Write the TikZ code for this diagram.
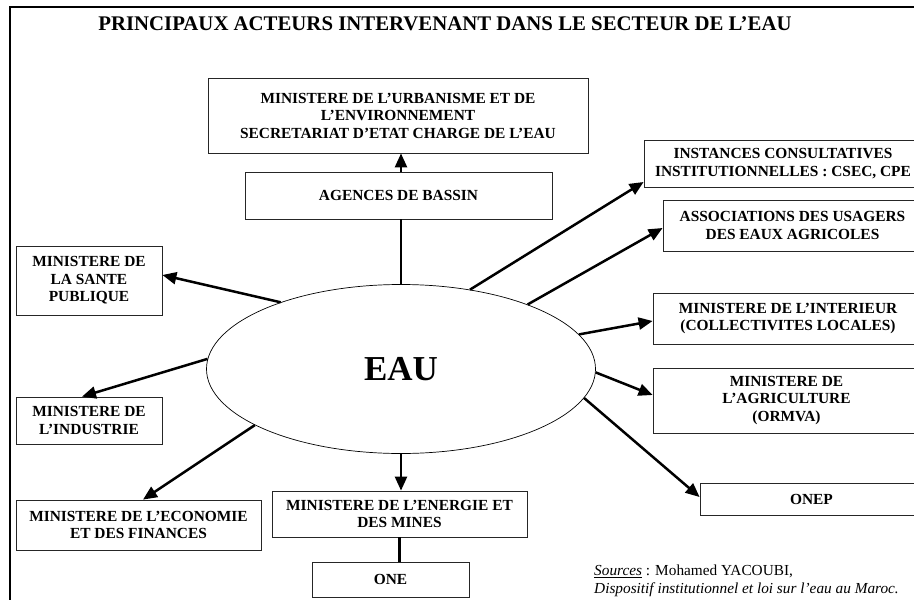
\documentclass[tikz,border=0pt]{standalone}
\usepackage{fontspec}
\setmainfont{Liberation Serif}
\usetikzlibrary{shapes.geometric,arrows.meta,shadows}
\begin{document}
\begin{tikzpicture}[x=1pt,y=-1pt,
  box/.style={draw=black!85, line width=0.8pt, fill=white, align=center, inner sep=0pt,
     font=\bfseries\fontsize{15.4}{17.5}\selectfont,
     drop shadow={shadow xshift=1.3pt, shadow yshift=-1.3pt, fill=black!55, opacity=1}},
  conn/.style={line width=2.5pt, -{Triangle[length=14pt,width=12pt]}},
  plainline/.style={line width=2.5pt}
]
\useasboundingbox (0,0) rectangle (914,600);
\clip (0,0) rectangle (914,600);
\fill[white] (0,0) rectangle (914,600);
\draw[line width=2pt] (10,600) -- (10,6.5) -- (914,6.5);

\node (title) at (445,24) {\bfseries\fontsize{20.8}{24}\selectfont PRINCIPAUX ACTEURS INTERVENANT DANS LE SECTEUR DE L’EAU};

\node[box, minimum width=380pt, minimum height=75pt] (urb) at (398,115.5)
  {MINISTERE DE L’URBANISME ET DE\\ L’ENVIRONNEMENT\\ SECRETARIAT D’ETAT CHARGE DE L’EAU};
\node[box, minimum width=307pt, minimum height=47pt] (agences) at (398.5,195.5) {AGENCES DE BASSIN};
\node[box, minimum width=278pt, minimum height=47pt] (inst) at (783,163.5)
  {INSTANCES CONSULTATIVES\\ INSTITUTIONNELLES : CSEC, CPE};
\node[box, minimum width=259pt, minimum height=51pt] (assoc) at (792.5,225.5)
  {ASSOCIATIONS DES USAGERS\\ DES EAUX AGRICOLES};
\node[box, minimum width=146pt, minimum height=69pt] (sante) at (89,280.5)
  {MINISTERE DE\\ LA SANTE\\ PUBLIQUE};
\node[box, minimum width=270pt, minimum height=51pt] (inter) at (788,318.5)
  {MINISTERE DE L’INTERIEUR\\ (COLLECTIVITES LOCALES)};
\node[box, minimum width=267pt, minimum height=65pt] (agri) at (786.5,400.5)
  {MINISTERE DE\\ L’AGRICULTURE\\ (ORMVA)};
\node[box, minimum width=146pt, minimum height=47pt] (indus) at (89,420.5)
  {MINISTERE DE\\ L’INDUSTRIE};
\node[box, minimum width=223pt, minimum height=32pt] (onep) at (811.5,499) {ONEP};
\node[box, minimum width=245pt, minimum height=50pt] (econ) at (138.5,525)
  {MINISTERE DE L’ECONOMIE\\ ET DES FINANCES};
\node[box, minimum width=255pt, minimum height=46pt] (energie) at (399.5,514)
  {MINISTERE DE L’ENERGIE ET\\ DES MINES};
\node[box, minimum width=157pt, minimum height=35pt] (one) at (390.5,579.5) {ONE};

\node[ellipse, draw, line width=0.7pt, fill=white, inner sep=0pt,
      minimum width=389pt, minimum height=169pt,
      font=\bfseries\fontsize{35}{40}\selectfont] (eau) at (401,369) {EAU};

% connectors
\draw[plainline] (eau.north) -- (eau.north |- agences.south);
\draw[conn] (eau.north |- agences.north) -- (eau.north |- urb.south);
\draw[conn] (eau.151) -- ([yshift=5.5pt]sante.east);
\draw[conn] (eau.177) -- ([xshift=-7pt]indus.north);
\draw[conn] (eau.201) -- ([xshift=4.5pt]econ.north);
\draw[conn] (eau.south) -- (eau.south |- energie.north);
\draw[plainline] (energie.south) -- (energie.south |- one.north);
\draw[conn] (eau.351) -- ([yshift=2pt]onep.west);
\draw[conn] (eau.359) -- ([yshift=5.5pt]agri.west);
\draw[conn] (eau.11) -- ([yshift=-2.5pt]inter.west);
\draw[conn] (eau.27) -- ([yshift=-2.5pt]assoc.west);
\draw[conn] (eau.49) -- ([yshift=-18.5pt]inst.west);

\node[anchor=north west, align=left, inner sep=0pt,
      font=\fontsize{15.3}{18}\selectfont] (src) at (594,565)
  {\underline{\textit{Sources}} : Mohamed YACOUBI,\\
   \textit{Dispositif institutionnel et loi sur l’eau au Maroc.}};
\end{tikzpicture}
\end{document}
